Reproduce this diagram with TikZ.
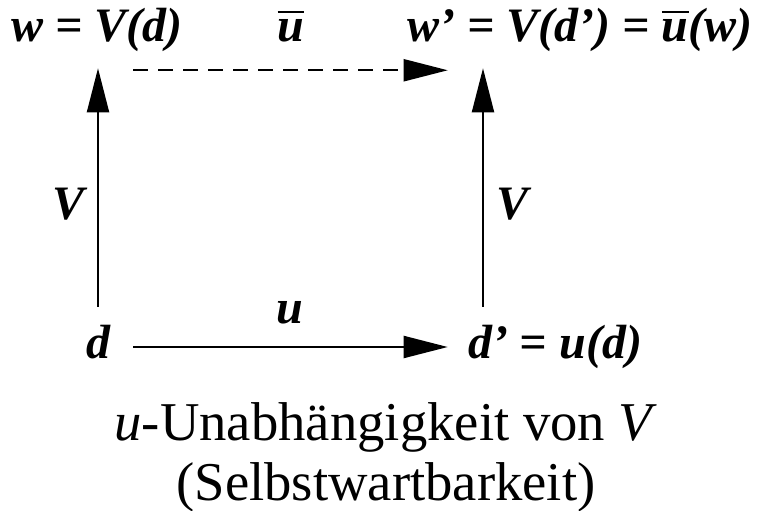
\documentclass[tikz,border=0pt]{standalone}
\usepackage{fontspec}
\setmainfont{Liberation Serif}
\usepackage{tikz}
\usetikzlibrary{arrows.meta}

\newcommand{\barred}[1]{\leavevmode\vbox{\hrule height 1.8pt\kern 4.5pt\hbox{#1}}}

\begin{document}
\begin{tikzpicture}[x=0.75pt, y=-0.75pt,
  lbl/.style={font=\fontsize{36}{42}\selectfont\bfseries\itshape, inner sep=0pt,
    text height=23.25pt, text depth=6.75pt, anchor=base},
  capline/.style={font=\fontsize{41}{48}\selectfont, inner sep=0pt, anchor=base},
  arr/.style={-{Triangle[length=33pt, width=16.5pt]}, line width=1.5pt},
  vgap/.style={shorten <=15pt, shorten >=13.5pt},
  hgap/.style={shorten <=17.25pt, shorten >=15pt}]
  \useasboundingbox (0,0) rectangle (758,511);

  \node[lbl] (w) at (97,41) {w = V(d)};
  \node[lbl] (ub) at (291,41) {\barred{u}};
  \node[lbl] (wp) at (580,41) {w’ = V(d’) = \barred{u}(w)};
  \node[lbl] (d) at (98,358) {d};
  \node[lbl] (dp) at (555,358) {d’ = u(d)};
  \node[lbl] (u) at (290,323) {u};
  \node[lbl] (vl) at (69,219) {V};
  \node[lbl] (vr) at (513,219) {V};
  \coordinate (xr) at (483,0);
  \path (w.south) ++(0,20) coordinate (top);

  \draw[arr, vgap] (d.north) -- (d.north |- w.south);
  \draw[arr, vgap] (dp.north -| xr) -- (wp.south -| xr);
  \draw[arr, hgap] (d.east) -- (dp.west);
  \draw[arr, hgap, dash pattern=on 11.25pt off 7.5pt] (d.east |- top) -- (dp.west |- top);

  \node[capline] (c1) at (386,440) {\textit{u}-Unabhängigkeit von \textit{V}};
  \node[capline] (c2) at (386,500) {(Selbstwartbarkeit)};
\end{tikzpicture}
\end{document}
